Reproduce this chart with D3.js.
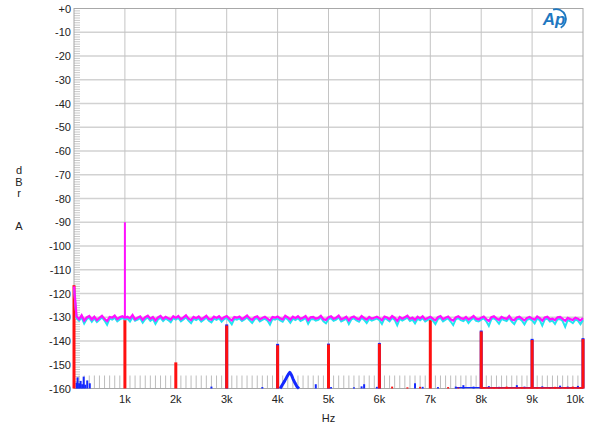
<!DOCTYPE html>
<html>
<head>
<meta charset="utf-8">
<script src="https://cdn.jsdelivr.net/npm/d3@7"></script>
<style>
  body { margin: 0; background: #fff; }
  svg text { font-family: Arial, "Liberation Sans", sans-serif; fill: #222; }
</style>
</head>
<body>
<svg id="chart" width="600" height="431"></svg>
<script>
// tick labels
var yTicks = [0, -10, -20, -30, -40, -50, -60, -70, -80, -90, -100, -110, -120, -130, -140, -150, -160];
var xTicks = [1000, 2000, 3000, 4000, 5000, 6000, 7000, 8000, 9000, 10000];
var xTickLabels = ["1k", "2k", "3k", "4k", "5k", "6k", "7k", "8k", "9k", "10k"];

// noise traces, one value every 50 Hz from 0 to 10 kHz
var noiseStep = 50;
var magentaNoise = [
  -117,-129.6,-130.8,-129.2,-131.4,-130.1,-129.5,-130.9,-129.8,-131.2,-130.3,-129.4,-130.7,-131.6,-129.9,-130.2,-129.3,-130.8,-130.0,-129.6,
  -130.2,-129.8,-130.5,-129.1,-130.9,-130.2,-129.7,-131.1,-130.0,-129.4,-130.6,-129.9,-131.3,-130.1,-129.5,-130.7,-129.8,-130.4,-131.0,-129.6,
  -130.3,-129.5,-130.8,-130.1,-129.2,-130.6,-131.2,-129.9,-130.4,-129.7,-130.9,-130.2,-129.4,-130.7,-131.0,-129.8,-130.3,-129.6,-130.8,-130.0,
  -129.5,-130.6,-131.3,-129.9,-130.2,-129.7,-130.8,-130.1,-129.3,-130.5,-131.1,-130.0,-129.6,-130.9,-130.3,-129.8,-130.6,-131.4,-129.9,-130.2,
  -129.7,-130.5,-130.9,-129.4,-130.1,-131.0,-129.8,-130.4,-129.6,-130.7,-130.2,-129.5,-131.2,-130.0,-129.9,-130.6,-130.3,-129.4,-130.8,-131.1,
  -130.0,-129.6,-130.7,-130.2,-129.3,-130.9,-130.4,-129.8,-131.3,-130.1,-129.7,-130.5,-130.9,-129.5,-130.3,-131.0,-129.9,-130.6,-130.2,-129.8,
  -130.4,-131.2,-129.7,-130.1,-130.8,-129.5,-130.3,-131.5,-129.9,-130.6,-130.0,-129.4,-130.7,-130.2,-131.1,-129.8,-130.5,-129.6,-130.9,-130.3,
  -129.8,-130.6,-131.3,-130.0,-129.5,-130.8,-130.2,-129.7,-130.9,-131.4,-130.1,-129.6,-130.4,-130.7,-129.9,-131.0,-130.3,-129.5,-130.6,-130.9,
  -130.2,-129.7,-130.8,-131.5,-130.0,-129.6,-130.5,-131.1,-129.9,-130.4,-130.7,-129.5,-130.9,-131.2,-130.1,-129.8,-130.6,-131.3,-130.3,-129.9,
  -130.5,-131.0,-129.7,-130.4,-131.4,-130.1,-129.8,-130.9,-130.6,-131.2,-130.0,-129.9,-130.7,-131.5,-130.3,-130.8,-131.1,-130.2,-130.6,-131.3,
  -130.4
];
var cyanNoise = [
  -118,-130.4,-131.5,-130.0,-132.6,-130.8,-130.2,-131.9,-130.5,-132.0,-131.1,-130.1,-131.4,-133.2,-130.6,-131.0,-130.2,-131.7,-130.9,-130.4,
  -130.9,-130.6,-131.8,-130.0,-131.5,-131.0,-130.4,-132.3,-130.8,-130.2,-131.5,-130.7,-132.8,-130.9,-130.3,-131.6,-130.5,-131.2,-132.1,-130.4,
  -131.0,-130.3,-131.7,-130.9,-130.1,-131.4,-132.5,-130.6,-131.2,-130.5,-131.8,-131.0,-130.2,-131.5,-132.2,-130.6,-131.1,-130.4,-131.9,-130.8,
  -130.3,-131.5,-133.0,-130.7,-131.0,-130.5,-131.6,-130.9,-130.1,-131.3,-132.4,-130.8,-130.4,-131.8,-131.1,-130.6,-131.4,-133.1,-130.7,-131.0,
  -130.5,-131.3,-131.9,-130.2,-130.9,-132.3,-130.6,-131.2,-130.4,-131.6,-131.0,-130.3,-132.7,-130.8,-130.7,-131.4,-131.1,-130.2,-131.7,-132.5,
  -130.8,-130.4,-131.5,-131.0,-130.1,-131.8,-131.2,-130.6,-132.9,-130.9,-130.5,-131.3,-131.9,-130.3,-131.1,-132.4,-130.7,-131.4,-131.0,-130.6,
  -131.2,-132.8,-130.5,-130.9,-131.7,-130.3,-131.1,-133.4,-130.7,-131.4,-130.8,-130.2,-131.6,-131.0,-132.6,-130.6,-131.3,-130.4,-131.8,-131.1,
  -130.6,-131.4,-132.9,-130.8,-130.3,-131.7,-131.0,-130.5,-131.8,-133.3,-130.9,-130.4,-131.2,-131.6,-130.7,-132.4,-131.1,-130.3,-131.5,-131.8,
  -131.0,-130.5,-131.7,-133.6,-130.8,-130.4,-131.3,-132.7,-130.7,-131.2,-131.6,-130.3,-131.8,-132.9,-130.9,-130.6,-131.4,-133.0,-131.1,-130.7,
  -131.3,-132.6,-130.5,-131.2,-133.5,-130.9,-130.6,-131.8,-131.4,-132.8,-130.8,-130.7,-131.6,-134.0,-131.1,-131.7,-132.5,-131.0,-131.4,-132.9,
  -131.2
];
// 1 kHz fundamental on the magenta trace
var fundamentalFreq = 1000;
var fundamentalLevel = -90;

// harmonic spikes (Hz, dB)
var harmonicFreqs = [0, 1000, 2000, 3000, 4000, 5000, 6000, 7000, 8000, 9000, 10000];
var redLevels     = [-116.5, -131, -149, -133.5, -141.8, -141.5, -141.2, -130, -136, -139.6, -139.2];
var blueLevels    = [-160, -160, -160, -133, -141.2, -141.1, -140.8, -160, -135.6, -139.1, -138.8];

// small low-level bits of the blue and red traces (Hz, dB)
var blueBits = [[50,-157.5],[70,-155.3],[100,-157.8],[130,-156.8],[160,-158.2],[190,-155],[220,-158.4],[260,-156.6],[310,-157.8],
  [2700,-159.2],[3700,-159.4],[4750,-158.2],[5050,-159.4],[5500,-159.5],[5650,-159.1],[5700,-158.2],[5950,-159.3],
  [6700,-157.8],[6850,-159.3],[7150,-159.4],[7500,-159.2],[7650,-158.6],[7850,-159.2],[8150,-159],[8350,-159.3],[8700,-158.6],
  [8850,-159.2],[9200,-159.1],[9350,-159.4],[9550,-158.8],[9700,-159.2],[9900,-158.9]];
var redBits = [[6250,-159.2],[6550,-159.5],[6800,-159.3],[7350,-159.4],[7550,-159.6],[8050,-159.4],[8250,-159.5],
  [8500,-159.2],[8800,-159.4],[9100,-159.5],[9450,-159.3],[9650,-159.5],[9800,-159.2],[9950,-159.4]];
// blue hump near 4.2 kHz
var blueHumpFreq = [4050, 4100, 4140, 4180, 4210, 4240, 4270, 4300, 4340, 4380, 4420];
var blueHumpDb   = [-160, -158.2, -156.8, -155.2, -154.1, -153.2, -154.2, -155.8, -157.6, -159.2, -160];

var svg = d3.select("#chart");
var plotLeft = 74, plotRight = 583, plotTop = 8.5, plotBottom = 388.5;

var x = d3.scaleLinear().domain([0, 10000]).range([plotLeft, plotRight]);
var y = d3.scaleLinear().domain([-160, 0]).range([plotBottom, plotTop]);

// grid
svg.append("g").selectAll("line")
  .data(yTicks.slice(1, -1))
  .enter().append("line")
    .attr("x1", plotLeft).attr("x2", plotRight)
    .attr("y1", d => y(d)).attr("y2", d => y(d))
    .style("stroke", "#d2d2d2").style("stroke-width", 1.5);

svg.append("g").selectAll("line")
  .data(xTicks.slice(0, -1))
  .enter().append("line")
    .attr("x1", d => x(d)).attr("x2", d => x(d))
    .attr("y1", plotTop).attr("y2", plotBottom)
    .style("stroke", "#c4c4c4").style("stroke-width", 1);

// minor ticks, left (every 1 dB) and bottom (every 100 Hz)
svg.append("g").selectAll("line")
  .data(d3.range(-159, 0, 1).filter(d => d % 10 != 0))
  .enter().append("line")
    .attr("x1", plotLeft).attr("x2", plotLeft + 6)
    .attr("y1", d => y(d)).attr("y2", d => y(d))
    .style("stroke", "#c8c8c8").style("stroke-width", 1);

svg.append("g").selectAll("line")
  .data(d3.range(100, 10000, 100).filter(d => d % 1000 != 0))
  .enter().append("line")
    .attr("x1", d => x(d)).attr("x2", d => x(d))
    .attr("y1", plotBottom).attr("y2", plotBottom - 13)
    .style("stroke", "#bdbdbd").style("stroke-width", 1);

// frame
svg.append("rect")
  .attr("x", plotLeft).attr("y", plotTop)
  .attr("width", plotRight - plotLeft).attr("height", plotBottom - plotTop)
  .style("fill", "none").style("stroke", "#a8a8a8").style("stroke-width", 1);

// blue trace
var blue = svg.append("g");
blue.selectAll("line")
  .data(harmonicFreqs.map((f, i) => [f, blueLevels[i]]).filter(d => d[1] > -160))
  .enter().append("line")
    .attr("x1", d => x(d[0])).attr("x2", d => x(d[0]))
    .attr("y1", y(-160)).attr("y2", d => y(d[1]))
    .style("stroke", "#1428ff").style("stroke-width", 3);
blue.selectAll(".bit")
  .data(blueBits)
  .enter().append("line")
    .attr("x1", d => x(d[0])).attr("x2", d => x(d[0]))
    .attr("y1", y(-160)).attr("y2", d => y(d[1]))
    .style("stroke", "#1428ff").style("stroke-width", 2);
blue.append("path")
  .attr("d", d3.line().x(d => x(d)).y((d, i) => y(blueHumpDb[i]))(blueHumpFreq))
  .style("fill", "none").style("stroke", "#1428ff").style("stroke-width", 3)
  .style("stroke-linejoin", "round");
blue.append("line")
  .attr("x1", x(7500)).attr("x2", x(10000))
  .attr("y1", y(-159.6)).attr("y2", y(-159.6))
  .style("stroke", "#1428ff").style("stroke-width", 1.2);

// red trace
var red = svg.append("g");
red.selectAll("line")
  .data(harmonicFreqs.map((f, i) => [f, redLevels[i]]))
  .enter().append("line")
    .attr("x1", d => x(d[0])).attr("x2", d => x(d[0]))
    .attr("y1", y(-160)).attr("y2", d => y(d[1]))
    .style("stroke", "#ff1010").style("stroke-width", 3);
red.selectAll(".bit")
  .data(redBits)
  .enter().append("line")
    .attr("x1", d => x(d[0])).attr("x2", d => x(d[0]))
    .attr("y1", y(-160)).attr("y2", d => y(d[1]))
    .style("stroke", "#ff1010").style("stroke-width", 2);
red.append("line")
  .attr("x1", x(8000)).attr("x2", x(10000))
  .attr("y1", y(-159.8)).attr("y2", y(-159.8))
  .style("stroke", "#ff1010").style("stroke-width", 1.5);

// noise traces
var noiseLine = d3.line()
  .x((d, i) => x(i * noiseStep))
  .y(d => y(d));

svg.append("path")
  .attr("d", noiseLine(cyanNoise))
  .style("fill", "none").style("stroke", "#22e4f0").style("stroke-width", 2);

svg.append("path")
  .attr("d", noiseLine(magentaNoise))
  .style("fill", "none").style("stroke", "#ff10ff").style("stroke-width", 2.3);

svg.append("line")
  .attr("x1", x(fundamentalFreq)).attr("x2", x(fundamentalFreq))
  .attr("y1", y(-130)).attr("y2", y(fundamentalLevel))
  .style("stroke", "#ff10ff").style("stroke-width", 2);

// axis labels
svg.append("g").selectAll("text")
  .data(yTicks)
  .enter().append("text")
    .attr("x", plotLeft - 3).attr("y", d => y(d) + 4)
    .attr("text-anchor", "end")
    .style("font-size", "11px")
    .text(d => d == 0 ? "+0" : d);

svg.append("g").selectAll("text")
  .data(xTicks)
  .enter().append("text")
    .attr("x", d => d == 10000 ? plotRight + 1 : x(d))
    .attr("y", 403)
    .attr("text-anchor", d => d == 10000 ? "end" : "middle")
    .style("font-size", "11px")
    .text((d, i) => xTickLabels[i]);

svg.append("text")
  .attr("x", x(5000)).attr("y", 422)
  .attr("text-anchor", "middle")
  .style("font-size", "11px")
  .text("Hz");

var yLabel = [["d", 174], ["B", 186], ["r", 197], ["A", 230]];
svg.append("g").selectAll("text")
  .data(yLabel)
  .enter().append("text")
    .attr("x", 19).attr("y", d => d[1])
    .attr("text-anchor", "middle")
    .style("font-size", "11px")
    .text(d => d[0]);

// Ap logo
var logo = svg.append("g").attr("transform", "translate(556,19)");
logo.append("text")
  .attr("x", -2).attr("y", 6)
  .attr("text-anchor", "middle")
  .style("font-size", "17px").style("font-style", "italic").style("font-weight", "bold")
  .style("fill", "#1f78c1")
  .text("Ap");
logo.append("path")
  .attr("d", d3.arc().innerRadius(9).outerRadius(10.8).startAngle(-0.3).endAngle(Math.PI - 0.5)())
  .style("fill", "#1f78c1");
</script>
</body>
</html>
